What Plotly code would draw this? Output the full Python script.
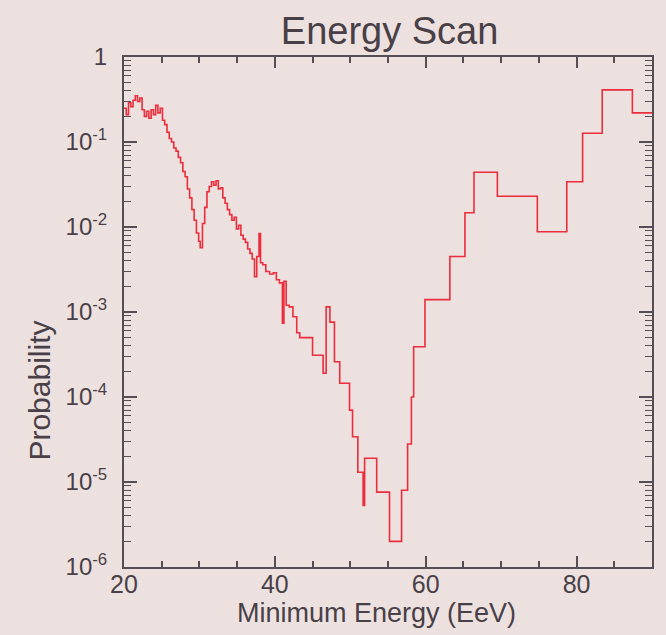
import plotly.graph_objects as go

# Left edge of each energy step (EeV) and the probability on that step
energy = [
    20.0, 20.3, 20.6, 20.9, 21.2, 21.5, 21.8, 22.1, 22.4, 22.7,
    23.0, 23.3, 23.6, 23.9, 24.2, 24.5, 24.8, 25.1, 25.4, 25.7,
    26.0, 26.3, 26.6, 26.9, 27.2, 27.5, 27.8, 28.1, 28.4, 28.7,
    29.0, 29.3, 29.6, 29.9, 30.1, 30.4, 30.7, 31.0, 31.3, 31.6,
    31.9, 32.2, 32.5, 32.8, 33.1, 33.4, 33.7, 34.0, 34.3, 34.6,
    34.9, 35.2, 35.5, 35.8, 36.1, 36.4, 36.7, 37.0, 37.3, 37.6,
    37.9, 38.1, 38.4, 38.8, 39.3, 39.8, 40.2, 40.6, 41.0, 41.2,
    41.5, 41.9, 42.4, 42.9, 43.3, 45.0, 46.4, 46.8, 47.3, 47.9,
    48.6, 49.9, 50.3, 51.0, 51.7, 51.9, 53.5, 55.2, 56.8, 57.6,
    58.1, 58.4, 59.9, 63.2, 65.2, 66.4, 69.5, 74.8, 78.7, 80.8,
    83.4, 87.4, 90.0,
]
probability = [
    0.25, 0.21, 0.29, 0.26, 0.31, 0.35, 0.30, 0.33, 0.24, 0.20,
    0.23, 0.19, 0.24, 0.21, 0.27, 0.22, 0.25, 0.18, 0.16, 0.13,
    0.11, 0.10, 0.085, 0.078, 0.066, 0.057, 0.045, 0.039, 0.028, 0.022,
    0.016, 0.012, 0.0085, 0.0068, 0.0057, 0.011, 0.017, 0.026, 0.030, 0.034,
    0.031, 0.035, 0.028, 0.029, 0.022, 0.019, 0.016, 0.014, 0.012, 0.013,
    0.0095, 0.0105, 0.0080, 0.0072, 0.0066, 0.0055, 0.0049, 0.0042, 0.0026, 0.0045,
    0.0084, 0.0038, 0.0036, 0.0030, 0.0028, 0.0029, 0.0024, 0.0022, 0.00074, 0.0023,
    0.0012, 0.00115, 0.00088, 0.00057, 0.00050, 0.00031, 0.00019, 0.00115, 0.00076, 0.00026,
    0.000145, 0.00007, 0.000034, 0.000013, 0.0000053, 0.000019, 0.0000076, 0.000002, 0.000008, 0.000028,
    0.0001, 0.00039, 0.0014, 0.0045, 0.0147, 0.044, 0.023, 0.0088, 0.034, 0.127,
    0.41, 0.22, 0.22,
]

x_ticks = [20, 40, 60, 80]
y_ticks = [1e-6, 1e-5, 1e-4, 1e-3, 1e-2, 1e-1, 1]
y_tick_labels = ["10<sup>-6</sup>", "10<sup>-5</sup>", "10<sup>-4</sup>", "10<sup>-3</sup>",
                 "10<sup>-2</sup>", "10<sup>-1</sup>", "1"]
title_text = "Energy Scan"
x_title = "Minimum Energy (EeV)"
y_title = "Probability"

bg = "rgb(237,225,224)"
ink = "rgb(85,78,84)"
text_col = "rgb(72,64,70)"
font_family = "Liberation Sans, Arial, sans-serif"

fig = go.Figure()
fig.add_trace(go.Scatter(
    x=energy, y=probability, mode="lines", line_shape="hv",
    line=dict(color="rgb(235,45,60)", width=1.6),
    showlegend=False, hoverinfo="x+y",
))

fig.update_layout(
    width=666, height=635,
    margin=dict(l=124, r=14, t=57, b=68),
    paper_bgcolor=bg, plot_bgcolor=bg,
    font=dict(family=font_family, color=text_col, size=26),
    title=dict(text=title_text, x=0.585, xanchor="center", y=0.952, yanchor="middle",
               font=dict(size=38, color=text_col)),
    annotations=[
        dict(text=y_title, textangle=-90, xref="paper", yref="paper",
             x=-0.16, y=0.345, xanchor="center", yanchor="middle", showarrow=False,
             font=dict(size=30, color=text_col)),
        dict(text=x_title, xref="paper", yref="paper",
             x=0.479, y=-0.091, xanchor="center", yanchor="middle", showarrow=False,
             font=dict(size=27, color=text_col)),
    ],
)

fig.update_xaxes(
    range=[20, 90], tickvals=x_ticks, ticktext=[str(v) for v in x_ticks],
    ticks="inside", ticklen=11, tickwidth=1.5, tickcolor=ink,
    minor=dict(dtick=5, ticks="inside", ticklen=6, tickwidth=1.5, tickcolor=ink),
    showline=True, linecolor=ink, linewidth=2, mirror="allticks",
    showgrid=False, zeroline=False,
    tickfont=dict(size=25), ticklabelstandoff=-6,
)
fig.update_yaxes(
    type="log", range=[-6, 0], tickvals=y_ticks, ticktext=y_tick_labels,
    ticks="inside", ticklen=13, tickwidth=1.5, tickcolor=ink,
    minor=dict(dtick="D1", ticks="inside", ticklen=7, tickwidth=1.2, tickcolor=ink),
    showline=True, linecolor=ink, linewidth=2, mirror="allticks",
    showgrid=False, zeroline=False,
    tickfont=dict(size=24), ticklabelstandoff=10,
)

fig.write_html("out.html")
